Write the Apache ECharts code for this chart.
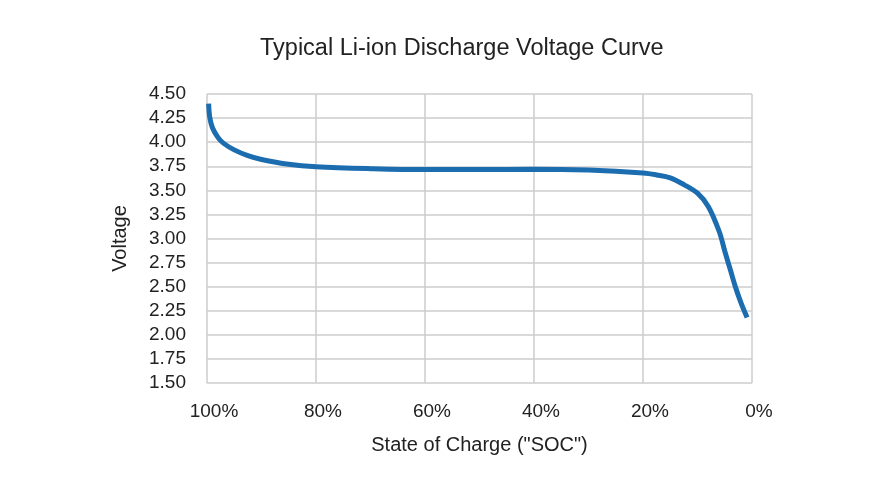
<!DOCTYPE html>
<html>
<head>
<meta charset="utf-8">
<script src="https://cdn.jsdelivr.net/npm/echarts@6/dist/echarts.min.js"></script>
<style>html,body{margin:0;padding:0;background:#fff;}#c{width:891px;height:488px;}</style>
</head>
<body>
<div id="c"></div>
<script>
const titleText = 'Typical Li-ion Discharge Voltage Curve';
const xName = 'State of Charge ("SOC")';
const yName = 'Voltage';
const socValues = [99.7, 99.5, 99.0, 98.0, 97.0, 95.0, 92.5, 90.0, 85.0, 80.0, 70.0, 60.0, 50.0, 40.0, 30.0, 20.0, 17.5, 15.0, 12.5, 10.0, 8.0, 6.0, 5.0, 4.0, 3.0, 2.0, 0.9];
const voltageValues = [4.40, 4.26, 4.15, 4.05, 3.99, 3.92, 3.86, 3.82, 3.77, 3.745, 3.725, 3.715, 3.715, 3.72, 3.71, 3.68, 3.66, 3.63, 3.56, 3.47, 3.33, 3.07, 2.87, 2.68, 2.49, 2.33, 2.18];

const chart = echarts.init(document.getElementById('c'));
const txt = '#222';
const font = 'Liberation Sans, Arial, sans-serif';
chart.setOption({
  animation: false,
  backgroundColor: '#fff',
  title: {
    text: titleText, left: 255, top: 32,
    textStyle: {fontFamily: font, fontSize: 23.5, fontWeight: 'normal', color: txt}
  },
  grid: {left: 207, right: 139, top: 94, bottom: 105},
  xAxis: {
    type: 'value', min: 0, max: 100, interval: 20, inverse: true,
    name: xName, nameLocation: 'middle', nameGap: 52,
    nameTextStyle: {fontFamily: font, fontSize: 20, color: txt},
    axisLine: {show: false}, axisTick: {show: false},
    axisLabel: {margin: 19, fontFamily: font, fontSize: 19, color: txt, formatter: '{value}%', padding: [0, 0, 0, 14]},
    splitLine: {show: true, lineStyle: {color: '#cccccc', width: 1.5}}
  },
  yAxis: {
    type: 'value', min: 1.5, max: 4.5, interval: 0.25,
    name: yName, nameLocation: 'middle', nameGap: 77, nameRotate: 90,
    nameTextStyle: {fontFamily: font, fontSize: 20, color: txt},
    axisLine: {show: false}, axisTick: {show: false},
    axisLabel: {margin: 21, fontFamily: font, fontSize: 19, color: txt, formatter: v => v.toFixed(2)},
    splitLine: {show: true, lineStyle: {color: '#cccccc', width: 1.5}}
  },
  series: [{
    type: 'line', smooth: 0.35, showSymbol: false,
    data: socValues.map((s, i) => [s, voltageValues[i]]),
    lineStyle: {color: '#1c6cb0', width: 5}
  }]
});
</script>
</body>
</html>
